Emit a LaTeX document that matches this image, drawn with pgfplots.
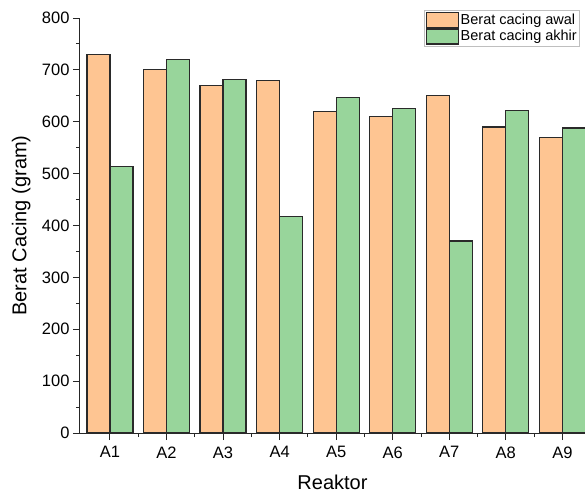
\documentclass[border=0pt]{standalone}
\usepackage{pgfplots}
\pgfplotsset{compat=1.18}
\usepackage{fontspec}
\setmainfont{Liberation Sans}
\definecolor{cawal}{HTML}{FEC592}
\definecolor{cakhir}{HTML}{98D59B}
\definecolor{cedge}{HTML}{2A2A2A}
\begin{document}
\begin{tikzpicture}
\path[use as bounding box] (-80pt,-65pt) rectangle (505pt,433pt);
\begin{axis}[
  scale only axis,
  width=505pt, height=415pt,
  xmin=0.47, xmax=9.4,
  ymin=0, ymax=800,
  axis lines=left,
  axis line style={-, line width=1pt, black!85},
  tick align=outside,
  ybar=0pt,
  bar width=23pt,
  xtick={1,...,9},
  xticklabels={A1,A2,A3,A4,A5,A6,A7,A8,A9},
  minor xtick={1.5,2.5,...,8.5},
  ytick={0,100,...,800},
  minor ytick={50,150,...,750},
  major tick length=7pt,
  minor tick length=4pt,
  every tick/.style={line width=1pt, black!85},
  tick label style={font=\fontsize{16.5}{18}\selectfont},
  xticklabel style={yshift=-3pt},
  /pgf/number format/assume math mode=true,
  xlabel={Reaktor},
  ylabel={Berat Cacing (gram)},
  label style={font=\fontsize{20}{22}\selectfont},
  xlabel style={at={(axis description cs:0.5,-0.135)}, anchor=base},
  ylabel style={at={(axis description cs:-0.106,0.5)}, anchor=base},
  legend style={at={(axis cs:9.315,815)}, anchor=north east,
    draw=black!25, line width=0.8pt, inner xsep=1pt, inner ysep=1.5pt,
    font=\fontsize{14.5}{16}\selectfont,
    row sep=0pt,
    legend cell align=left},
  legend image code/.code={\draw[#1] (0pt,-7.5pt) rectangle (32pt,7.5pt);},
  clip=false,
]
\addplot[fill=cawal, draw=cedge, line width=1.2pt] coordinates {
(1,730) (2,700) (3,670) (4,680) (5,620) (6,610) (7,650) (8,590) (9,570)};
\addplot[fill=cakhir, draw=cedge, line width=1.2pt] coordinates {
(1,513) (2,720) (3,682) (4,417) (5,647) (6,625) (7,370) (8,622) (9,588)};
\legend{Berat cacing awal, Berat cacing akhir}
\end{axis}
\end{tikzpicture}
\end{document}
